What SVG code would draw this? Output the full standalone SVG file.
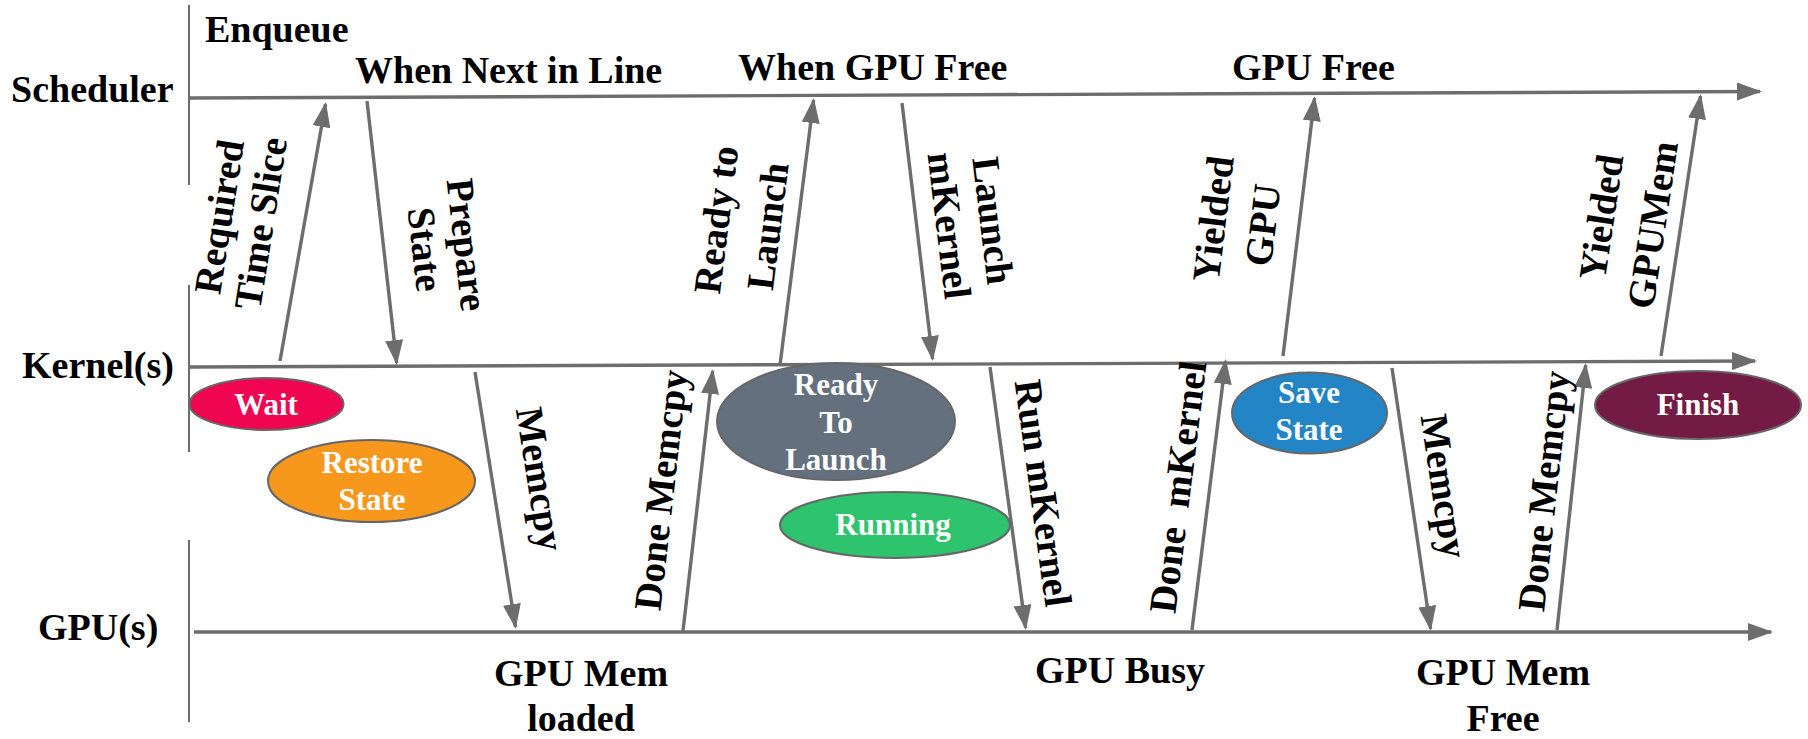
<svg xmlns="http://www.w3.org/2000/svg" width="1808" height="739" viewBox="0 0 1808 739">
<style>
.t{font-family:"Liberation Serif","Times New Roman",serif;font-weight:bold;font-size:38px;fill:#000}
.rt{font-family:"Liberation Serif","Times New Roman",serif;font-weight:bold;font-size:39px;fill:#000;text-anchor:middle}
.et{font-family:"Liberation Serif","Times New Roman",serif;font-weight:bold;font-size:31px;fill:#fff;text-anchor:middle}
.c{text-anchor:middle}
.ln{stroke:#6d6d6d;stroke-width:3.4;fill:none}
.ax{stroke:#6d6d6d;stroke-width:2;fill:none}
.el{stroke:#666;stroke-width:2}
</style>
<defs>
<marker id="ah" markerUnits="userSpaceOnUse" markerWidth="26" markerHeight="18" refX="23" refY="9" orient="auto">
<path d="M0,0 L25,9 L0,18 z" fill="#6d6d6d"/>
</marker>
</defs>
<rect width="1808" height="739" fill="#fff"/>

<g id="axis">
<line class="ax" x1="189" y1="5" x2="189" y2="185"/>
<line class="ax" x1="189" y1="285" x2="189" y2="452"/>
<line class="ax" x1="189" y1="540" x2="189" y2="722"/>
</g>

<g id="lane-scheduler">
<text class="t" x="11" y="102">Scheduler</text>
</g>
<g id="lane-kernel">
<text class="t" x="22" y="378">Kernel(s)</text>
</g>
<g id="lane-gpu">
<text class="t" x="38" y="640">GPU(s)</text>
</g>

<g id="connectors">
<line class="ln" x1="190" y1="98" x2="1760" y2="91.5" marker-end="url(#ah)"/>
<line class="ln" x1="190" y1="367" x2="1755" y2="361" marker-end="url(#ah)"/>
<line class="ln" x1="194" y1="632" x2="1771" y2="632" marker-end="url(#ah)"/>
<line class="ln" x1="280" y1="361" x2="325.5" y2="104" marker-end="url(#ah)"/>
<line class="ln" x1="367" y1="101" x2="396.7" y2="363" marker-end="url(#ah)"/>
<line class="ln" x1="475" y1="372" x2="515.5" y2="627" marker-end="url(#ah)"/>
<line class="ln" x1="683" y1="631" x2="712.7" y2="371" marker-end="url(#ah)"/>
<line class="ln" x1="780" y1="365" x2="813.6" y2="100" marker-end="url(#ah)"/>
<line class="ln" x1="902" y1="103" x2="932.6" y2="359" marker-end="url(#ah)"/>
<line class="ln" x1="990" y1="367" x2="1025.6" y2="628" marker-end="url(#ah)"/>
<line class="ln" x1="1192" y1="630" x2="1225.6" y2="361" marker-end="url(#ah)"/>
<line class="ln" x1="1283" y1="356" x2="1314.6" y2="98" marker-end="url(#ah)"/>
<line class="ln" x1="1392" y1="368" x2="1430.6" y2="629" marker-end="url(#ah)"/>
<line class="ln" x1="1557" y1="630" x2="1585.7" y2="365" marker-end="url(#ah)"/>
<line class="ln" x1="1661" y1="356" x2="1700.5" y2="96" marker-end="url(#ah)"/>
</g>

<g id="event-enqueue"><text class="t" x="205" y="42">Enqueue</text></g>
<g id="event-next"><text class="t" x="355" y="83">When Next in Line</text></g>
<g id="event-gpufree-when"><text class="t" x="738" y="80">When GPU Free</text></g>
<g id="event-gpufree"><text class="t" x="1232" y="80">GPU Free</text></g>
<g id="event-memloaded"><text class="t c" x="581" y="686">GPU Mem</text><text class="t c" x="581" y="731">loaded</text></g>
<g id="event-busy"><text class="t c" x="1120" y="683">GPU Busy</text></g>
<g id="event-memfree"><text class="t c" x="1503" y="685">GPU Mem</text><text class="t c" x="1503" y="731">Free</text></g>

<g id="lbl-timeslice" transform="translate(240,220) rotate(-81)"><text class="rt" y="-8">Required</text><text class="rt" y="34">Time Slice</text></g>
<g id="lbl-prepare" transform="translate(446,247) rotate(83.5)"><text class="rt" y="-8">Prepare</text><text class="rt" y="34">State</text></g>
<g id="lbl-memcpy1" transform="translate(540,479) rotate(81)"><text class="rt" y="13">Memcpy</text></g>
<g id="lbl-donememcpy1" transform="translate(661,490) rotate(-83.5)"><text class="rt" y="13">Done Memcpy</text></g>
<g id="lbl-ready" transform="translate(742,223) rotate(-82.8)"><text class="rt" y="-13">Ready to</text><text class="rt" y="39">Launch</text></g>
<g id="lbl-launch" transform="translate(971,223) rotate(83.2)"><text class="rt" y="-9">Launch</text><text class="rt" y="35">mKernel</text></g>
<g id="lbl-run" transform="translate(1043,493) rotate(82.2)"><text class="rt" y="13">Run mKernel</text></g>
<g id="lbl-donemk" transform="translate(1178,487) rotate(-82.9)"><text class="rt" y="13" xml:space="preserve">Done  mKernel</text></g>
<g id="lbl-yieldgpu" transform="translate(1238,222) rotate(-83)"><text class="rt" y="-12">Yielded</text><text class="rt" y="38">GPU</text></g>
<g id="lbl-memcpy2" transform="translate(1444,486) rotate(81.6)"><text class="rt" y="13">Memcpy</text></g>
<g id="lbl-donememcpy2" transform="translate(1544,491) rotate(-83.8)"><text class="rt" y="13">Done Memcpy</text></g>
<g id="lbl-yieldmem" transform="translate(1627,221) rotate(-81.4)"><text class="rt" y="-13">Yielded</text><text class="rt" y="39">GPUMem</text></g>

<g id="state-wait"><ellipse class="el" cx="266.5" cy="404" rx="77" ry="26" fill="#F00552"/><text class="et" x="266" y="415">Wait</text></g>
<g id="state-restore"><ellipse class="el" cx="371.5" cy="481" rx="103.5" ry="41" fill="#F7971C"/><text class="et" x="372" y="473">Restore</text><text class="et" x="372" y="510">State</text></g>
<g id="state-ready"><ellipse class="el" cx="836" cy="421.5" rx="119" ry="58.5" fill="#64707E"/><text class="et" x="836" y="395">Ready</text><text class="et" x="836" y="433">To</text><text class="et" x="836" y="470">Launch</text></g>
<g id="state-running"><ellipse class="el" cx="895" cy="525" rx="115" ry="33" fill="#2EC46D"/><text class="et" x="893" y="535">Running</text></g>
<g id="state-save"><ellipse class="el" cx="1309.5" cy="413" rx="77.5" ry="40.5" fill="#2384C6"/><text class="et" x="1309" y="403">Save</text><text class="et" x="1309" y="440">State</text></g>
<g id="state-finish"><ellipse class="el" cx="1698" cy="405" rx="103" ry="34" fill="#741B45"/><text class="et" x="1698" y="415">Finish</text></g>
</svg>
